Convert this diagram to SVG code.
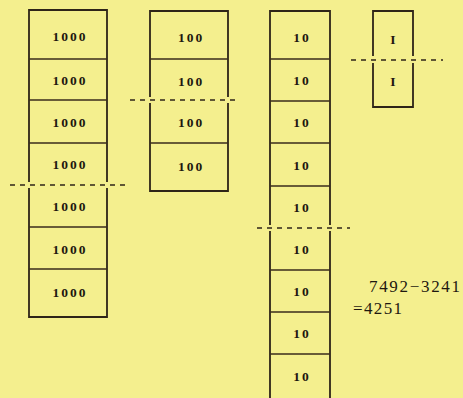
<svg xmlns="http://www.w3.org/2000/svg" width="463" height="398" viewBox="0 0 463 398">
<style>
.edge{stroke:#2e2418;stroke-width:1.8;fill:none;stroke-linecap:square}
.div{stroke:#3a2c1c;stroke-width:1.3;fill:none}
.dash{stroke:#2e2418;stroke-width:1.5;stroke-dasharray:5 5;fill:none}
.lbl{font-family:"Liberation Serif",serif;font-size:13.5px;fill:#1e1810;text-anchor:middle;letter-spacing:2px;font-weight:bold}
.eq{font-family:"Liberation Serif",serif;font-size:17px;fill:#1e1810}
</style>
<rect width="463" height="398" fill="#f4ef8e"/>
<g id="col-thousands">
<path class="edge" d="M29 10H107M29 10V181M29 189V317M107 10V181M107 189V317M29 317H107"/>
<path class="div" d="M29 59H107M29 100H107M29 143H107M29 227H107M29 269H107"/>
<text class="lbl" x="70" y="41">1000</text>
<text class="lbl" x="70" y="85">1000</text>
<text class="lbl" x="70" y="127">1000</text>
<text class="lbl" x="70" y="169">1000</text>
<text class="lbl" x="70" y="211">1000</text>
<text class="lbl" x="70" y="254">1000</text>
<text class="lbl" x="70" y="297">1000</text>
</g>
<g id="col-hundreds">
<path class="edge" d="M150 11H228M150 11V96M150 104V191M228 11V96M228 104V191M150 191H228"/>
<path class="div" d="M150 59H228M150 143H228"/>
<text class="lbl" x="191" y="42">100</text>
<text class="lbl" x="191" y="86">100</text>
<text class="lbl" x="191" y="127">100</text>
<text class="lbl" x="191" y="171">100</text>
</g>
<g id="col-tens">
<path class="edge" d="M270 11H330M270 11V224M270 232V400M330 11V224M330 232V400"/>
<path class="div" d="M270 59H330M270 101H330M270 143H330M270 186H330M270 270H330M270 312H330M270 354H330"/>
<text class="lbl" x="302" y="42">10</text>
<text class="lbl" x="302" y="85">10</text>
<text class="lbl" x="302" y="127">10</text>
<text class="lbl" x="302" y="170">10</text>
<text class="lbl" x="302" y="212">10</text>
<text class="lbl" x="302" y="254">10</text>
<text class="lbl" x="302" y="296">10</text>
<text class="lbl" x="302" y="338">10</text>
<text class="lbl" x="302" y="381">10</text>
</g>
<g id="col-units">
<path class="edge" d="M373 11H413M373 11V55M413 11V55M373 64V107M413 64V107M373 107H413"/>
<text class="lbl" x="394" y="44">I</text>
<text class="lbl" x="394" y="86">I</text>
</g>
<g id="dividing-lines">
<path class="dash" d="M10 185H128"/>
<path class="dash" d="M130 100H237"/>
<path class="dash" d="M257 228H350"/>
<path class="dash" d="M351 60H443"/>
</g>
<g id="equation">
<text class="eq" x="369" y="292" textLength="91" lengthAdjust="spacing">7492−3241</text>
<text class="eq" x="353" y="314" textLength="49" lengthAdjust="spacing">=4251</text>
</g>
</svg>
